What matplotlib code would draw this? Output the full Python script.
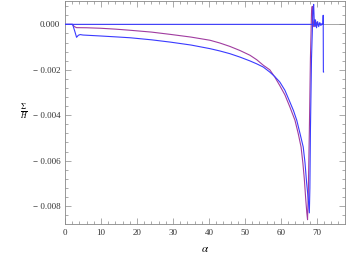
import numpy as np
import matplotlib
matplotlib.use("Agg")
import matplotlib.pyplot as plt
from matplotlib.ticker import MultipleLocator

# ---- data ----
alpha_purple = [0, 2.0, 2.6, 3.2, 6, 9.7, 14, 18.1, 24, 29.2, 35, 40.3, 43, 45.8,
                48.6, 51.4, 53.3, 55.1, 56.9, 58.3, 59.7, 61.1, 62.5, 63.9, 64.8,
                65.6, 66.1, 66.5, 66.9, 67.2, 67.4, 67.6, 67.9, 68.2, 68.5, 68.7,
                68.85, 69.0, 69.3, 69.6, 70.0, 70.4, 70.8, 71.0]
sigma_purple = [0, 0, -0.00010, -0.000145, -0.00015, -0.00017, -0.00021, -0.00026,
                -0.00034, -0.00044, -0.00056, -0.00070, -0.00082, -0.00097,
                -0.00115, -0.00136, -0.00156, -0.0018, -0.0020, -0.00232, -0.0027,
                -0.0031, -0.00364, -0.00422, -0.0048, -0.0054, -0.0061, -0.0068,
                -0.0077, -0.0083, -0.0086, -0.0075, -0.0047, -0.0015, 0.0005,
                0.00079, 0.0002, -0.0001, 0.0002, -0.00008, 0.0001, -0.00005,
                0.00003, 0.0]

alpha_blue = [0, 2.1, 2.7, 3.2, 3.7, 4.2, 5.0, 9.7, 14, 18.1, 24, 29.2, 35, 40.3, 43,
              45.8, 48.6, 51.4, 53.3, 55.1, 56.9, 58.3, 59.7, 61.1, 62.5, 63.5,
              64.4, 65.3, 66.2, 66.7, 67.1, 67.6, 67.9, 68.05, 68.2, 68.5, 68.9,
              69.1, 69.25, 69.4, 69.6, 69.9, 70.2, 70.5, 70.8, 71.1, 71.4, 71.7]
sigma_blue = [0, 0, -0.0003, -0.00057, -0.00048, -0.00045, -0.00047, -0.00051,
              -0.00055, -0.00059, -0.00068, -0.00078, -0.00091, -0.00107, -0.00117,
              -0.00129, -0.00144, -0.00161, -0.00174, -0.00188, -0.0021, -0.0023,
              -0.00254, -0.0029, -0.00342, -0.0038, -0.00422, -0.0048, -0.0054,
              -0.0061, -0.0069, -0.0077, -0.0083, -0.0072, -0.0047, -0.0015, 0.0006,
              0.00088, 0.0002, -0.0001, 0.0002, -0.00015, 0.00012, -0.0001, 0.00008,
              -0.00005, 0.00003, 0.0]

# third series: flat at zero, blows up at the end
alpha_flat = [0, 71.7, 71.75, 71.8, 71.85]
sigma_flat = [0, 0, 0.0004, -0.0021, -0.0021]

plt.rcParams["font.family"] = ["Liberation Serif", "DejaVu Serif"]
plt.rcParams["mathtext.fontset"] = "stix"

fig = plt.figure(figsize=(3.46, 2.54), dpi=100)
ax = fig.add_axes([0.188, 0.118, 0.809, 0.88])

ax.axhline(0, color="#999999", lw=0.6, zorder=1)
ax.plot(alpha_flat, sigma_flat, color="#3a3aff", lw=0.8, zorder=3)
ax.plot(alpha_purple, sigma_purple, color="#a03ca0", lw=0.8, zorder=2)
ax.plot(alpha_blue, sigma_blue, color="#3a3aff", lw=0.8, zorder=3)

ax.set_xlim(0, 77.8)
ax.set_ylim(-0.00879, 0.00105)
ax.xaxis.set_major_locator(MultipleLocator(10))
ax.xaxis.set_minor_locator(MultipleLocator(2))
ax.yaxis.set_major_locator(MultipleLocator(0.002))
ax.yaxis.set_minor_locator(MultipleLocator(0.0004))
ax.yaxis.set_major_formatter(plt.FuncFormatter(
    lambda v, p: "0.000" if abs(v) < 1e-9 else ("\u2212 %.3f" % abs(v) if v < 0 else "%.3f" % v)))

for s in ax.spines.values():
    s.set_color("#888888")
    s.set_linewidth(0.6)
ax.tick_params(which="both", direction="in", top=True, right=True,
               color="#888888", labelsize=6.5, labelcolor="#333333", width=0.5)
ax.tick_params(which="major", length=4)
ax.tick_params(which="minor", length=2)

ax.set_xlabel(r"$\alpha$", fontsize=8, labelpad=6)
ax.set_ylabel(r"$\frac{\Sigma}{H}$", fontsize=8, rotation=0, labelpad=6, va="center")

fig.savefig("out.png", dpi=100)
